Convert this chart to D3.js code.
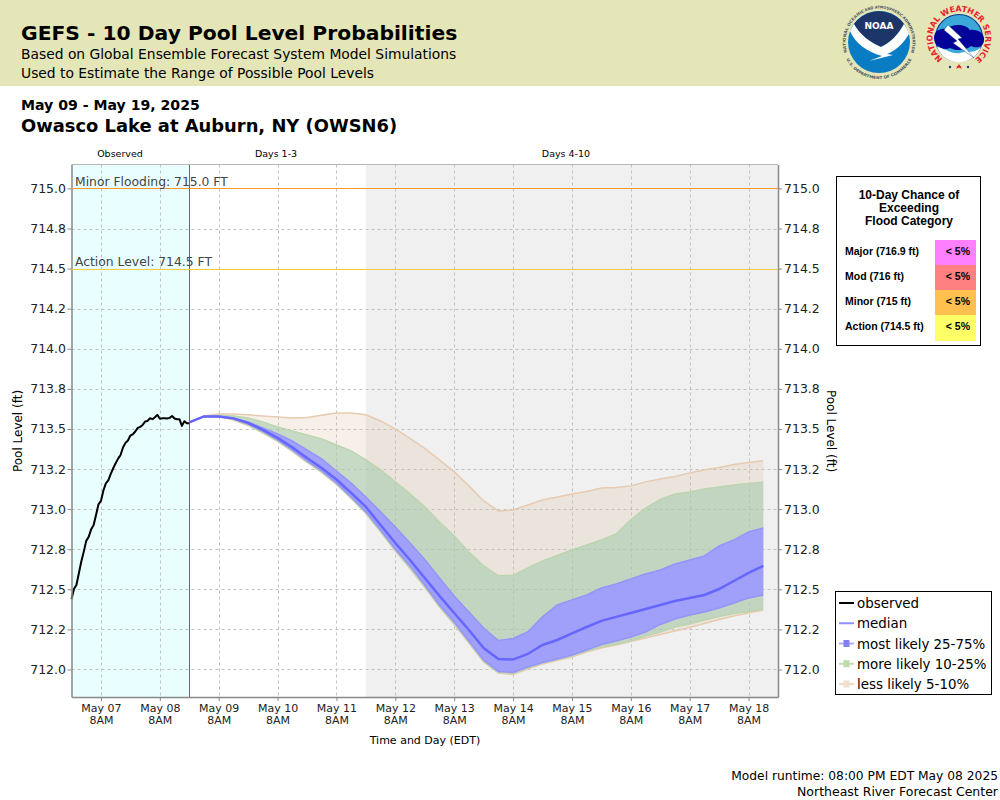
<!DOCTYPE html>
<html><head><meta charset="utf-8">
<script src="https://cdn.jsdelivr.net/npm/d3@7"></script>
<style>html,body{margin:0;padding:0;background:#fff}svg{display:block}text{font-family:"DejaVu Sans",sans-serif;fill:#000}</style>
</head><body><svg id="c" width="1000" height="800"></svg>
<script>
// ---- data ----
const observedStart = Date.UTC(2025,4,6,20);
const forecastStart = Date.UTC(2025,4,8,20);
const observed = [712.438,712.502,712.527,712.600,712.673,712.735,712.802,712.827,712.874,712.899,712.964,713.030,713.051,713.116,713.161,713.180,713.220,713.255,713.286,713.315,713.338,713.384,713.413,713.428,713.459,713.467,713.484,713.507,713.513,713.525,713.546,713.550,713.567,713.561,713.573,713.588,713.563,713.567,713.567,713.565,713.569,713.581,713.565,713.561,713.561,713.519,713.548,713.536,713.536];
const median = [713.541,713.578,713.578,713.566,713.538,713.494,713.444,713.385,713.319,713.257,713.185,713.101,713.014,712.901,712.789,712.683,712.571,712.459,712.352,712.246,712.134,712.066,712.062,712.097,712.153,712.184,712.225,712.265,712.303,712.328,712.352,712.377,712.402,712.427,712.446,712.465,712.502,712.552,712.602,712.646];
const q75 = [713.541,713.578,713.578,713.569,713.544,713.507,713.469,713.425,713.369,713.313,713.238,713.163,713.076,712.983,712.889,712.789,712.686,712.571,712.459,712.359,712.259,712.181,712.193,712.234,712.328,712.402,712.434,712.465,712.508,712.533,712.565,712.596,712.621,712.658,712.683,712.708,712.770,712.808,712.858,712.883];
const q25 = [713.541,713.578,713.578,713.563,713.531,713.485,713.432,713.369,713.301,713.238,713.163,713.076,712.983,712.870,712.752,712.646,712.527,712.402,712.296,712.178,712.059,711.988,711.981,712.016,712.044,712.066,712.090,712.122,712.156,712.178,712.203,712.234,712.281,712.315,712.340,712.359,712.384,712.415,712.446,712.465];
const q90 = [713.541,713.578,713.585,713.581,713.569,713.544,713.513,713.488,713.463,713.438,713.400,713.363,713.307,713.245,713.170,713.095,713.014,712.920,712.833,712.733,712.646,712.586,712.586,712.633,712.677,712.711,712.745,712.777,712.808,712.845,712.933,713.007,713.061,713.095,713.107,713.126,713.138,713.151,713.160,713.167];
const q10 = [713.541,713.578,713.578,713.560,713.525,713.478,713.425,713.363,713.294,713.232,713.157,713.070,712.976,712.861,712.742,712.633,712.515,712.393,712.284,712.168,712.050,711.981,711.975,712.009,712.041,712.062,712.084,712.115,712.140,712.159,712.178,712.209,712.234,712.265,712.284,712.309,712.331,712.349,712.362,712.377];
const q95 = [713.541,713.581,713.594,713.594,713.588,713.581,713.575,713.569,713.572,713.585,713.600,713.600,713.588,713.550,713.500,713.441,713.379,713.307,713.232,713.145,713.051,712.989,712.995,713.026,713.057,713.076,713.095,713.110,713.132,713.135,713.145,713.170,713.188,713.204,713.226,713.245,713.260,713.279,713.291,713.301];
const q05 = [713.541,713.578,713.578,713.556,713.522,713.475,713.422,713.360,713.291,713.229,713.154,713.067,712.973,712.858,712.739,712.630,712.512,712.390,712.281,712.165,712.047,711.978,711.969,712.003,712.034,712.056,712.078,712.109,712.134,712.153,712.175,712.197,712.218,712.240,712.262,712.287,712.312,712.334,712.352,712.371];
const yTicks = [712,712.25,712.5,712.75,713,713.25,713.5,713.75,714,714.25,714.5,714.75,715];
const yTickLabels = ["712.0","712.2","712.5","712.8","713.0","713.2","713.5","713.8","714.0","714.2","714.5","714.8","715.0"];
const xTickDays = ["May 07","May 08","May 09","May 10","May 11","May 12","May 13","May 14","May 15","May 16","May 17","May 18"];
const thresholds = [{v:715,label:"Minor Flooding: 715.0 FT",color:"#ff9a2e"},{v:714.5,label:"Action Level: 714.5 FT",color:"#f2cc40"}];
const floodRows = ["Major (716.9 ft)","Mod (716 ft)","Minor (715 ft)","Action (714.5 ft)"];
const floodChance = ["< 5%","< 5%","< 5%","< 5%"];
const floodColors = ["#ff80ff","#ff8080","#ffc050","#ffff66"];
const legendItems = ["observed","median","most likely 25-75%","more likely 10-25%","less likely 5-10%"];

// ---- layout ----
const svg = d3.select("#c");
const defs = svg.append("defs");
const L=71.5,R=778,T=164.5,B=697;
const x = d3.scaleUtc().domain([observedStart, Date.UTC(2025,4,18,20)]).range([L,R]);
const y = d3.scaleLinear().domain([711.8285,715.1491]).range([B,T]);
const H = 3600e3;
const ft = i => forecastStart + i*6*H;
const ot = i => observedStart + i*H;

svg.append("rect").attr("width",1000).attr("height",86).attr("fill","#e5e6b8");
const t=(s,px,py,size,o={})=>svg.append("text").attr("x",px).attr("y",py).attr("font-size",size)
  .attr("font-weight",o.w||"normal").attr("text-anchor",o.a||"start").style("fill",o.c||"#000").style("font-family",o.f||null).text(s);
t("GEFS - 10 Day Pool Level Probabilities",21,40,20.3,{w:"bold"});
t("Based on Global Ensemble Forecast System Model Simulations",21,59,13.85);
t("Used to Estimate the Range of Possible Pool Levels",21,78,13.85);
t("May 09 - May 19, 2025",21,110,14.1,{w:"bold"});
t("Owasco Lake at Auburn, NY (OWSN6)",21,132,17.9,{w:"bold"});

// arc text helper for the two logos
let arcId=0;
function arcText(g,str,r,a0,a1,size,color,ccw){
  const rad=a=>a*Math.PI/180, px=a=>r*Math.sin(rad(a)), py=a=>-r*Math.cos(rad(a));
  const id="arc"+(arcId++), span=Math.abs(a1-a0);
  defs.append("path").attr("id",id).attr("d",`M${px(a0)},${py(a0)} A${r},${r} 0 ${span>180?1:0} ${ccw?0:1} ${px(a1)},${py(a1)}`);
  g.append("text").attr("font-size",size).attr("font-weight","bold").style("fill",color)
    .append("textPath").attr("href","#"+id).attr("textLength",(rad(span)*r).toFixed(1)).attr("lengthAdjust","spacingAndGlyphs").text(str);
}
// NOAA logo
(function(){
  const g=svg.append("g").attr("transform","translate(879,42)");
  g.append("circle").attr("r",31).attr("fill","#0a7cc4");
  g.append("path").attr("d","M-25,-18 A31,31 0 0 1 25,-18 C19,-7 11,1 2,5 C-8,1 -19,-7 -25,-18Z").attr("fill","#1d3569");
  g.append("path").attr("d","M-29,-11 C-27,-14 -26,-17 -25,-18 C-19,-7 -8,1 2,5 C11,1 19,-7 25,-18 C27,-15 29,-12 30,-8 C24,2 16,9 8,12 L14,13 L-10,19 L3,14 C-12,10 -24,1 -29,-11Z").attr("fill","#fff");
  g.append("text").attr("y",-13).attr("text-anchor","middle").attr("font-size",9).attr("font-weight","bold").style("fill","#fff").text("NOAA");
  arcText(g,"NATIONAL OCEANIC",33.5,-108,-26,3.9,"#4a5260");
  arcText(g,"AND ATMOSPHERIC",33.5,-24,42,3.9,"#4a5260");
  arcText(g,"ADMINISTRATION",33.5,44,108,3.9,"#4a5260");
  arcText(g,"U.S. DEPARTMENT OF COMMERCE",37,242,118,3.9,"#4a5260",true);
})();
// NWS logo
(function(){
  const g=svg.append("g").attr("transform","translate(959,38)");
  g.append("circle").attr("r",23.5).attr("fill","#3aa9da").attr("stroke","#123a8c").attr("stroke-width",1.2);
  g.append("path").attr("d","M-22,9 A23.5,23.5 0 0 0 22,9 C14,17 7,12 1,15 C-7,17 -14,10 -22,9Z").attr("fill","#fff");
  g.append("path").attr("d","M-25,0 C-25,-8 -17,-10 -13,-9 C-6,-15 7,-14 11,-8 C18,-9 26,-5 25,2 C25,9 17,11 12,8 C7,13 -4,13 -9,10 C-16,13 -25,8 -25,0Z").attr("fill","#03039a");
  g.append("path").attr("d","M-11,-13 L3,0 L-1,1 L15,20 L-6,5 L-2,3 L-15,-8Z").attr("fill","#fff").attr("stroke","#123a8c").attr("stroke-width",.4);
  arcText(g,"NATIONAL WEATHER SERVICE",26.5,-142,142,8,"#e8202a");
  g.append("path").attr("d","M-3,31 l3,-5 l3,5 l-6,-3 h6z").attr("fill","#e8202a");
  g.append("circle").attr("cx",-9).attr("cy",29).attr("r",1.2).attr("fill","#123a8c");
  g.append("circle").attr("cx",9).attr("cy",29).attr("r",1.2).attr("fill","#123a8c");
})();

// plot backgrounds
const rectT=(a,b,c)=>svg.append("rect").attr("x",x(a)).attr("y",T).attr("width",x(b)-x(a)).attr("height",B-T).attr("fill",c);
rectT(observedStart,forecastStart,"#e9ffff");
rectT(Date.UTC(2025,4,11,20),Date.UTC(2025,4,18,20),"#f0f0f0");

// grid
const xTickTimes = xTickDays.map((_,i)=>Date.UTC(2025,4,7+i,8));
const grid=svg.append("g").attr("stroke","#c2c2c2").attr("stroke-dasharray","3,3").attr("stroke-width",1);
yTicks.forEach(v=>grid.append("line").attr("x1",L).attr("x2",R).attr("y1",Math.round(y(v))+.5).attr("y2",Math.round(y(v))+.5));
xTickTimes.forEach(v=>grid.append("line").attr("x1",Math.round(x(v))+.5).attr("x2",Math.round(x(v))+.5).attr("y1",T).attr("y2",B));

// bands
const band=(lo,hi,fill,op,stroke)=>{
  const idx=d3.range(lo.length);
  svg.append("path").attr("d",d3.area().x(i=>x(ft(i))).y0(i=>y(lo[i])).y1(i=>y(hi[i]))(idx)).attr("fill",fill).attr("fill-opacity",op);
  [lo,hi].forEach(s=>svg.append("path").attr("d",d3.line().x(i=>x(ft(i))).y(i=>y(s[i]))(idx)).attr("fill","none").attr("stroke",stroke).attr("stroke-width",1.5));
};
band(q05,q95,"#d9bc95",.22,"#e6cbb0");
band(q10,q90,"#a4caae",.58,"#bcd5ae");
band(q25,q75,"#9d9bff",.92,"#9494fa");

// forecast start line
svg.append("line").attr("x1",Math.round(x(forecastStart))+.5).attr("x2",Math.round(x(forecastStart))+.5).attr("y1",T).attr("y2",B).attr("stroke","#c84040").attr("stroke-width",1);

// lines
svg.append("path").attr("d",d3.line().x((d,i)=>x(ot(i))).y(d=>y(d))(observed)).attr("fill","none").attr("stroke","#000").attr("stroke-width",2).attr("stroke-linejoin","round");
svg.append("path").attr("d",d3.line().x((d,i)=>x(ft(i))).y(d=>y(d))(median)).attr("fill","none").attr("stroke","#6666ff").attr("stroke-width",2.5);

// axes
const styleAxis=g=>{g.selectAll("text").style("fill","#222").attr("font-size",12.5);g.select(".domain").attr("stroke","#888").attr("stroke-width",1.5);g.selectAll(".tick line").attr("stroke","#888");g.attr("font-family",null)};
svg.append("g").attr("transform",`translate(${L},0)`).call(d3.axisLeft(y).tickValues(yTicks).tickFormat((d,i)=>yTickLabels[i]).tickSize(4).tickSizeOuter(0).tickPadding(1.5)).call(styleAxis);
svg.append("g").attr("transform",`translate(${R},0)`).call(d3.axisRight(y).tickValues(yTicks).tickFormat((d,i)=>yTickLabels[i]).tickSize(4).tickSizeOuter(0).tickPadding(2)).call(styleAxis);
const xa=svg.append("g").attr("transform",`translate(0,${B})`).call(d3.axisBottom(x).tickValues(xTickTimes).tickFormat(()=>"").tickSize(4).tickSizeOuter(0)).call(styleAxis);
xa.selectAll(".tick").each(function(d,i){
  const tx=d3.select(this).select("text").attr("font-size",11).attr("y",0);
  tx.append("tspan").attr("x",0).attr("y",15).attr("dy",0).text(xTickDays[i]);
  tx.append("tspan").attr("x",0).attr("y",27).text("8AM");
});
svg.append("line").attr("x1",L).attr("x2",R).attr("y1",T).attr("y2",T).attr("stroke","#b8b8b8").attr("stroke-width",1.2);

// threshold lines, drawn after the axes so nothing covers them
thresholds.forEach(d=>{
  svg.append("line").attr("x1",L).attr("x2",R).attr("y1",Math.round(y(d.v))+.5).attr("y2",Math.round(y(d.v))+.5).style("stroke",d.color).style("stroke-width",1);
  t(d.label,75,Math.round(y(d.v)-2.6),12.35,{c:"#444"});
});

// band labels
t("Observed",120,157,9.5,{a:"middle"});
t("Days 1-3",276,157,9.5,{a:"middle"});
t("Days 4-10",566,157,9.5,{a:"middle"});
// axis labels
svg.append("text").attr("transform","translate(22,431) rotate(-90)").attr("text-anchor","middle").attr("font-size",12).text("Pool Level (ft)");
svg.append("text").attr("transform","translate(827,431) rotate(90)").attr("text-anchor","middle").attr("font-size",12).text("Pool Level (ft)");
t("Time and Day (EDT)",425,744,11,{a:"middle"});
t("Model runtime: 08:00 PM EDT May 08 2025",998,780,12.27,{a:"end"});
t("Northeast River Forecast Center",998,796,12.5,{a:"end"});

// flood box
svg.append("rect").attr("x",836.5).attr("y",176.5).attr("width",144).attr("height",169).attr("fill","#fff").attr("stroke","#000");
const AR="'Liberation Sans',Arial,sans-serif";
["10-Day Chance of","Exceeding","Flood Category"].forEach((s,i)=>t(s,909,199+i*13,12,{a:"middle",w:"bold",f:AR}));
floodRows.forEach((s,i)=>{
  const ry=240+i*25;
  svg.append("rect").attr("x",935).attr("y",ry).attr("width",41).attr("height",i==3?26:25).attr("fill",floodColors[i]);
  t(s,845,ry+15,10.5,{w:"bold",f:AR});
  t(floodChance[i],970,ry+15,10.5,{a:"end",w:"bold",f:AR});
});

// legend
svg.append("rect").attr("x",835.5).attr("y",591.5).attr("width",156).attr("height",103).attr("fill","#fff").attr("stroke","#000");
const legColors=[["#000",null],["#9090ff",null],["#b0b0ff","#8080f4"],["#c4dcb4","#bcdcac"],["#eedac6","#efdfcc"]];
legendItems.forEach((s,i)=>{
  const ly=603+i*20.25;
  svg.append("line").attr("x1",839).attr("x2",854).attr("y1",ly).attr("y2",ly).attr("stroke",legColors[i][0]).attr("stroke-width",2);
  if(legColors[i][1]) svg.append("rect").attr("x",843.5).attr("y",ly-3.5).attr("width",6).attr("height",7).attr("fill",legColors[i][1]);
  t(s,857,ly+5,13.4);
});
</script></body></html>
